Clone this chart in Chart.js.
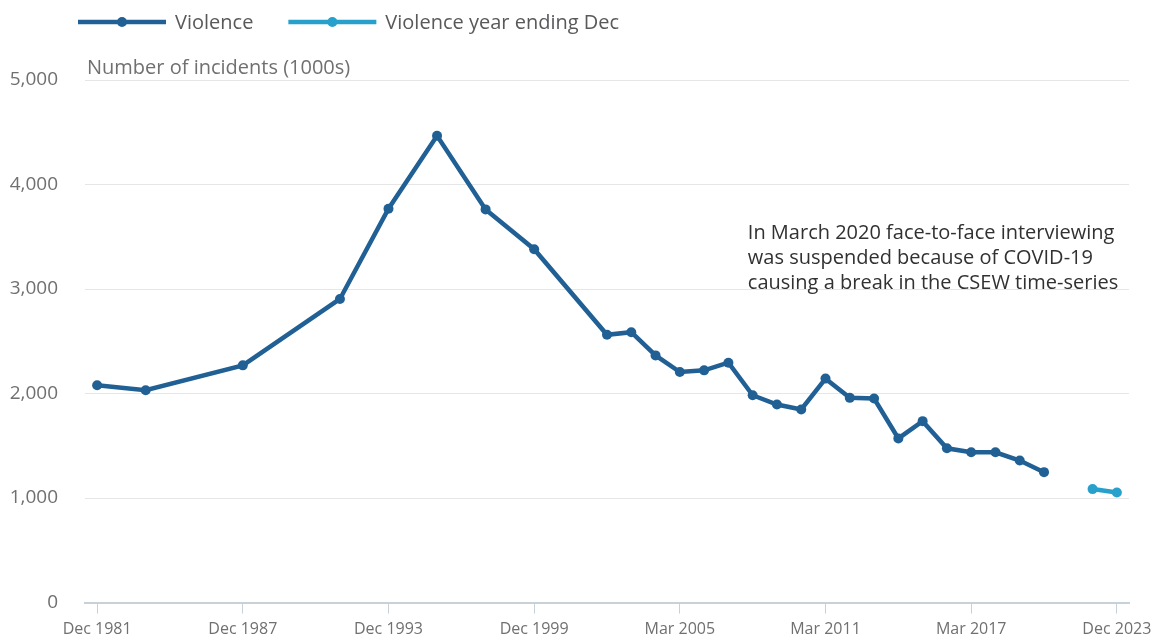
<!DOCTYPE html>
<html>
<head>
<meta charset="utf-8">
<script src="https://cdn.jsdelivr.net/npm/chart.js@4/dist/chart.umd.min.js"></script>
<style>
  body { margin: 0; background: #fff; }
  canvas { display: block; }
</style>
</head>
<body>
<canvas id="chart" width="1159" height="641"></canvas>
<script>
// one category per year, labels follow the survey periods
const categories = [
  'Dec 1981','Dec 1982','Dec 1983','Dec 1984','Dec 1985','Dec 1986','Dec 1987','Dec 1988','Dec 1989','Dec 1990',
  'Dec 1991','Dec 1992','Dec 1993','Dec 1994','Dec 1995','Dec 1996','Dec 1997','Dec 1998','Dec 1999','Dec 2000',
  'Mar 2001','Mar 2002','Mar 2003','Mar 2004','Mar 2005','Mar 2006','Mar 2007','Mar 2008','Mar 2009','Mar 2010',
  'Mar 2011','Mar 2012','Mar 2013','Mar 2014','Mar 2015','Mar 2016','Mar 2017','Mar 2018','Mar 2019','Mar 2020',
  'Dec 2021','Dec 2022','Dec 2023'
];

const violence = [
  2079, null, 2032, null, null, null, 2270, null, null, null,
  2905, null, 3768, null, 4467, null, 3762, null, 3381, null,
  null, 2562, 2587, 2365, 2206, 2222, 2295, 1984, 1895, 1848,
  2143, 1959, 1952, 1571, 1736, 1476, 1438, 1438, 1359, 1248,
  null, null, null
];

const violenceYearEndingDec = [
  null, null, null, null, null, null, null, null, null, null,
  null, null, null, null, null, null, null, null, null, null,
  null, null, null, null, null, null, null, null, null, null,
  null, null, null, null, null, null, null, null, null, null,
  null, 1086, 1054
];

const seriesNames = ['Violence', 'Violence year ending Dec'];
const axisTitle = 'Number of incidents (1000s)';
const noteLines = [
  'In March 2020 face-to-face interviewing',
  'was suspended because of COVID-19',
  'causing a break in the CSEW time-series'
];

const darkBlue = '#206095';
const lightBlue = '#27a0cc';
const textGrey = '#707070';
const font = '"Open Sans", sans-serif';

// legend, axis title and the covid note drawn on top
const extrasPlugin = {
  id: 'extras',
  afterDraw(chart) {
    const { ctx, chartArea, scales } = chart;
    ctx.save();
    ctx.textBaseline = 'middle';

    // legend
    ctx.font = '20px ' + font;
    let x = 78;
    const y = 22;
    chart.data.datasets.forEach(ds => {
      ctx.strokeStyle = ds.borderColor;
      ctx.lineWidth = 4.5;
      ctx.beginPath();
      ctx.moveTo(x, y);
      ctx.lineTo(x + 88, y);
      ctx.stroke();
      ctx.fillStyle = ds.borderColor;
      ctx.beginPath();
      ctx.arc(x + 44, y, 5, 0, Math.PI * 2);
      ctx.fill();
      ctx.fillStyle = '#58595b';
      ctx.fillText(ds.label, x + 97, y + 1);
      x += 97 + ctx.measureText(ds.label).width + 35;
    });

    // axis title
    ctx.font = '20px ' + font;
    ctx.fillStyle = textGrey;
    ctx.fillText(axisTitle, chartArea.left + 2, chartArea.top - 12);

    // note
    ctx.font = '20px ' + font;
    ctx.fillStyle = '#323132';
    const nx = scales.x.getPixelForValue(26.8);
    const ny = scales.y.getPixelForValue(3530);
    noteLines.forEach((line, i) => ctx.fillText(line, nx, ny + i * 25));
    ctx.restore();
  }
};

new Chart(document.getElementById('chart'), {
  type: 'line',
  data: {
    labels: categories,
    datasets: [
      { label: seriesNames[0], data: violence, borderColor: darkBlue, backgroundColor: darkBlue,
        borderWidth: 4.5, pointRadius: 5, pointBorderWidth: 0, spanGaps: true, tension: 0 },
      { label: seriesNames[1], data: violenceYearEndingDec, borderColor: lightBlue, backgroundColor: lightBlue,
        borderWidth: 4.5, pointRadius: 5, pointBorderWidth: 0, spanGaps: true, tension: 0 }
    ]
  },
  options: {
    responsive: false,
    animation: false,
    layout: { padding: { top: 80, right: 30, left: 0, bottom: -8 } },
    plugins: { legend: { display: false }, tooltip: { enabled: false } },
    scales: {
      x: {
        offset: true,
        grid: {
          offset: false,
          drawOnChartArea: false,
          tickLength: 11,
          tickColor: c => c.index % 6 === 0 ? '#c8d0d8' : 'transparent'
        },
        border: { color: '#c8d0d8', width: 2 },
        ticks: {
          autoSkip: false,
          maxRotation: 0,
          padding: 6,
          color: textGrey,
          font: { family: font, size: 16 },
          callback: (v, i) => i % 6 === 0 ? categories[i] : ''
        }
      },
      y: {
        min: 0,
        max: 5000,
        afterFit: s => { s.width = 85; },
        grid: { color: '#e6e6e6', drawTicks: false },
        border: { display: false },
        ticks: {
          stepSize: 1000,
          padding: 27,
          color: textGrey,
          font: { family: font, size: 19 },
          callback: v => v.toLocaleString('en-GB')
        }
      }
    }
  },
  plugins: [extrasPlugin]
});
</script>
</body>
</html>
